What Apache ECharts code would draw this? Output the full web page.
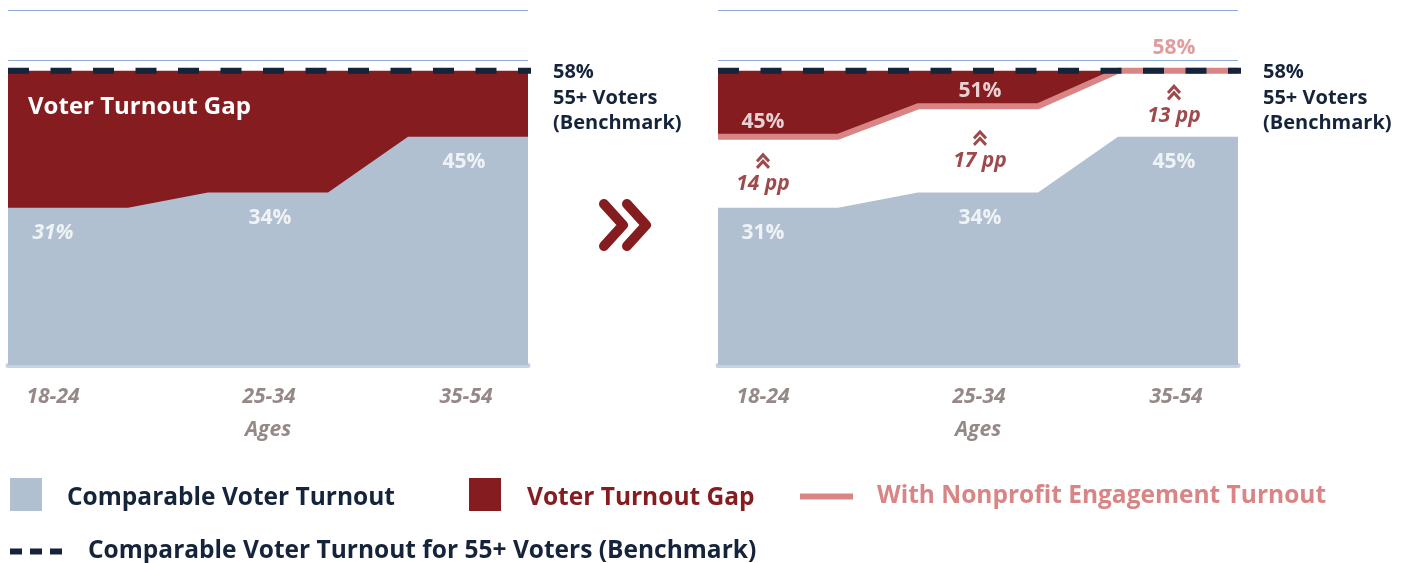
<!DOCTYPE html>
<html><head><meta charset="utf-8">
<script src="https://cdn.jsdelivr.net/npm/echarts@6/dist/echarts.min.js"></script>
<style>html,body{margin:0;padding:0;background:#fff}#c{width:1405px;height:563px}</style>
</head><body><div id="c"></div>
<script>
// ---- data ----
const categories = ['18-24', '25-34', '35-54'];
const comparableTurnout = [31, 34, 45];
const nonprofitTurnout = [45, 51, 58];
const benchmarkTurnout = 58;
const yTickValues = [0, 10, 20, 30, 40, 50, 60, 70];

// ---- style ----
const RED = '#851d20', GRAY = '#b1c0d1', PINK = '#d98585', NAVY = '#15233b',
      AXIS_TXT = '#958987', GRIDLINE = '#8eaad9', AXISLINE = '#c8d0e4';
const FONT = 'Open Sans';

const n = categories.length;
const STEP = 10, FLAT = 6, X_MAX = STEP * (n - 1) + FLAT, X_EXT = 0.55;
const center = i => STEP * i + FLAT / 2;
const steps = vals => vals.flatMap((v, i) => [[STEP * i, v], [STEP * i + FLAT, v]]);
const SHIFT = [-15, 2, -4];
const AXSHIFT = [[0, 30, 0, 0], [0, 0, 0, 2], [0, 4, 0, 0]];

const gain = nonprofitTurnout.map((v, i) => v - comparableTurnout[i]);
const benchLine = categories.map(() => benchmarkTurnout);

function xAxisFor(gridIndex) {
  return {
    type: 'value', gridIndex, min: 0, max: X_MAX, interval: 1, offset: 3,
    axisLine: { show: true, lineStyle: { color: AXISLINE, width: 5 } },
    axisTick: { show: false }, splitLine: { show: false },
    axisLabel: {
      margin: 19,
      formatter: v => {
        const k = (v - FLAT / 2) / STEP;
        if (Number.isInteger(k) && k >= 0 && k < n) return '{c' + k + '|' + categories[k] + '}';
        return '';
      },
      rich: Object.fromEntries(categories.map((c, k) => ['c' + k, {
        color: AXIS_TXT, fontSize: 21, fontWeight: 'bold', fontStyle: 'italic', fontFamily: FONT, padding: AXSHIFT[k]
      }]))
    },
    name: 'Ages', nameLocation: 'middle', nameGap: 52,
    nameTextStyle: { color: AXIS_TXT, fontSize: 21, fontWeight: 'bold', fontStyle: 'italic', fontFamily: FONT }
  };
}
function yAxisFor(gridIndex) {
  return {
    type: 'value', gridIndex, min: yTickValues[0], max: yTickValues[yTickValues.length - 1],
    interval: yTickValues[1] - yTickValues[0],
    axisLine: { show: false }, axisTick: { show: false }, axisLabel: { show: false },
    splitLine: { show: true, lineStyle: { color: GRIDLINE, width: 1 } }
  };
}
function area(name, data, color, gi, extra) {
  return Object.assign({
    name, type: 'line', data, xAxisIndex: gi, yAxisIndex: gi, symbol: 'none',
    lineStyle: { width: 0, color }, itemStyle: { color }, areaStyle: { color, opacity: 1 }, z: 2, silent: true
  }, extra || {});
}
function bench(gi) {
  return {
    name: 'Comparable Voter Turnout for 55+ Voters (Benchmark)', type: 'line', xAxisIndex: gi, yAxisIndex: gi,
    data: [[0, benchmarkTurnout], [X_MAX + X_EXT, benchmarkTurnout]], symbol: 'none', clip: false, z: 6, silent: true,
    itemStyle: { color: NAVY },
    lineStyle: { color: NAVY, width: 6, type: [21, 21.5] },
    endLabel: {
      show: true, formatter: benchmarkTurnout + '%\n55+ Voters\n(Benchmark)', distance: 22, offset: [0, 27],
      color: NAVY, fontSize: 20, fontWeight: 'bold', fontFamily: FONT, lineHeight: 25.5, align: 'left'
    }
  };
}
function labels(gi, items) {
  return {
    type: 'scatter', xAxisIndex: gi, yAxisIndex: gi, symbolSize: 1, silent: true, z: 10,
    itemStyle: { color: 'rgba(0,0,0,0)' },
    label: { show: true, position: 'inside', fontSize: 21, fontWeight: 'bold', fontFamily: FONT },
    data: items
  };
}
const grayLabels = (italicFirst) => comparableTurnout.map((v, i) => ({
  value: [center(i), v],
  label: { formatter: v + '%', color: '#fff', offset: [SHIFT[i], 25], fontStyle: (italicFirst && i === 0) ? 'italic' : 'normal' }
}));
const engagedLabels = nonprofitTurnout.map((v, i) => ({
  value: [center(i), v],
  label: { formatter: v + '%', color: v >= benchmarkTurnout ? PINK : '#fff', offset: [SHIFT[i], v >= benchmarkTurnout ? -23 : -15] }
}));
const mids = nonprofitTurnout.map((v, i) => (v + comparableTurnout[i]) / 2);
const ppLabels = gain.map((g, i) => ({
  value: [center(i), mids[i]],
  label: { formatter: g + ' pp', color: RED, fontStyle: 'italic', offset: [SHIFT[i], 12] }
}));
const chevrons = {
  type: 'scatter', xAxisIndex: 1, yAxisIndex: 1, silent: true, z: 10,
  symbol: 'path://M1,7 L6,2 L11,7 M1,12 L6,7 L11,12', symbolSize: [12, 13],
  itemStyle: { color: 'rgba(0,0,0,0)', borderColor: RED, borderWidth: 3 },
  data: mids.map((m, i) => ({ value: [center(i), m], symbolOffset: [SHIFT[i], -11] }))
};
const legendText = (color, pad, down) => ({
  color, fontSize: 24.5, fontWeight: 'bold', fontFamily: FONT, padding: [0, 0, 0, pad],
  rich: { t: { color, fontSize: 24.5, fontWeight: 'bold', fontFamily: FONT, padding: [down, 0, 0, 0] } }
});

const option = {
  animation: false,
  textStyle: { fontFamily: FONT },
  title: { text: 'Voter Turnout Gap', left: 28, top: 95, padding: 0, textStyle: { color: '#fff', fontSize: 24, fontWeight: 'bold', fontFamily: FONT } },
  grid: [
    { left: 8, top: 10, width: 520, height: 355 },
    { left: 718, top: 10, width: 520, height: 355 }
  ],
  xAxis: [xAxisFor(0), xAxisFor(1)],
  yAxis: [yAxisFor(0), yAxisFor(1)],
  legend: [
    { data: ['Comparable Voter Turnout'], left: 10, top: 478, padding: 0, icon: 'rect', itemWidth: 32, itemHeight: 33, selectedMode: false,
      formatter: '{t|{name}}', itemStyle: { color: GRAY, borderWidth: 0 }, textStyle: legendText(NAVY, 20, 8) },
    { data: ['Voter Turnout Gap'], left: 469, top: 478, padding: 0, icon: 'rect', itemWidth: 32, itemHeight: 33, selectedMode: false,
      formatter: '{t|{name}}', itemStyle: { color: RED, borderWidth: 0 }, textStyle: legendText(RED, 21, 8) },
    { data: ['With Nonprofit Engagement Turnout'], left: 800, top: 484, padding: 0, icon: 'rect', itemWidth: 53, itemHeight: 6, selectedMode: false,
      itemStyle: { color: PINK, borderWidth: 0 }, textStyle: legendText(PINK, 19, 0) },
    { data: ['Comparable Voter Turnout for 55+ Voters (Benchmark)'], left: 10, top: 539, padding: 0, selectedMode: false,
      icon: 'path://M0,0h12v6h-12z M20,0h12v6h-12z M40,0h12v6h-12z', itemWidth: 52, itemHeight: 6,
      itemStyle: { color: NAVY, borderWidth: 0 }, textStyle: legendText(NAVY, 21, 0) }
  ],
  graphic: [
    { type: 'polyline', shape: { points: [[604, 204], [623, 225], [604, 246]] }, style: { stroke: RED, lineWidth: 10, fill: 'none', lineCap: 'round', lineJoin: 'round' } },
    { type: 'polyline', shape: { points: [[627, 204], [646, 225], [627, 246]] }, style: { stroke: RED, lineWidth: 10, fill: 'none', lineCap: 'round', lineJoin: 'round' } }
  ],
  series: [
    // left chart
    area('Voter Turnout Gap', steps(benchLine), RED, 0),
    area('Comparable Voter Turnout', steps(comparableTurnout), GRAY, 0),
    bench(0),
    labels(0, grayLabels(true)),
    // right chart: layered (gap up to benchmark, cleared below nonprofit turnout, comparable on top)
    area('Voter Turnout Gap', steps(benchLine), RED, 1),
    area('', steps(nonprofitTurnout), '#ffffff', 1),
    area('Comparable Voter Turnout', steps(comparableTurnout), GRAY, 1),
    { name: 'With Nonprofit Engagement Turnout', type: 'line', xAxisIndex: 1, yAxisIndex: 1, symbol: 'none', silent: true,
      data: steps(nonprofitTurnout), lineStyle: { color: PINK, width: 6 }, itemStyle: { color: PINK }, z: 4 },
    bench(1),
    labels(1, grayLabels(false)),
    labels(1, engagedLabels),
    labels(1, ppLabels),
    chevrons
  ]
};
const chart = echarts.init(document.getElementById('c'));
chart.setOption(option);
</script>
</body></html>
